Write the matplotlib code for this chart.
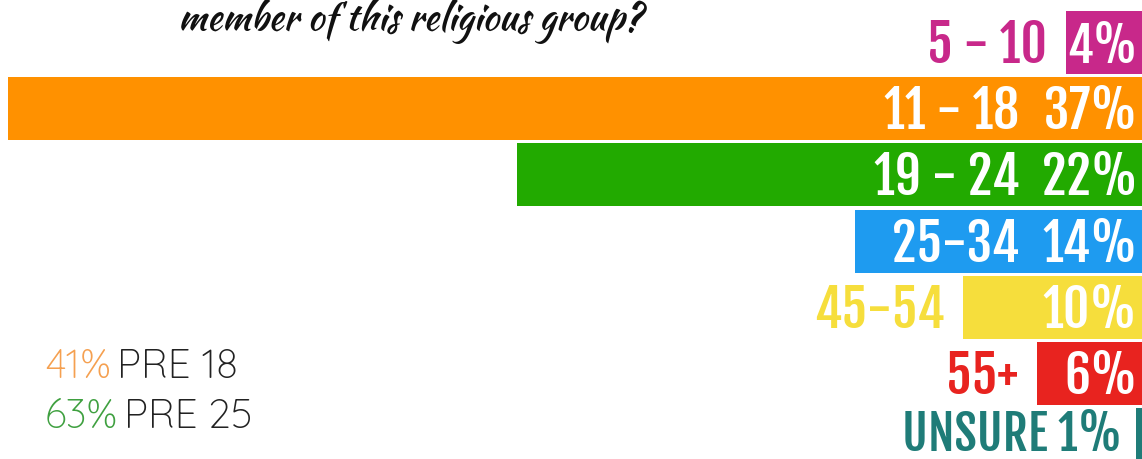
import numpy as np
import matplotlib.pyplot as plt

# age groups (rows, top to bottom) and their share
ages = ['5 - 10', '11 - 18', '19 - 24', '25-34', '45-54', '55+', 'UNSURE']
shares = [4, 37, 22, 14, 10, 6, 1]
# drawn bar length (same units as %, not proportional in the original)
bar_len = [2.48, 37.0, 20.4, 9.36, 5.84, 3.43, 0.2]
colors = ['#C8288A', '#FF9100', '#22AA00', '#1E9BF0', '#F6DE3C', '#E8231F', '#1F7C78']

W, H = 1142, 459
fig = plt.figure(figsize=(W / 100, H / 100), dpi=100)
ax = fig.add_axes([0, 0, 1, 1])

y = np.arange(len(ages))
ax.barh(y, bar_len, height=0.95, color=colors, left=0)
ax.set_xlim(37.26, 0)
ax.set_ylim(6.287, -0.636)
ax.axis('off')

bold = dict(family=['Fjalla One', 'Oswald', 'DejaVu Sans'], va='baseline')
for i, (a, s, L, c) in enumerate(zip(ages, shares, bar_len, colors)):
    pct = f'{s}%'
    yb = i + 0.31
    if L < 1:
        # last row is clipped by the image edge, text sits a bit higher
        ax.text(L + 0.45, i + 0.17, f'{a} {pct}', color=c, ha='right', fontsize=35, **bold)
        continue
    ax.text(0.15, yb, pct, color='white', ha='right', fontsize=35 if L < 3 else 37, **bold)
    if L > 8:
        ax.text(4.0, yb, a, color='white', ha='right', fontsize=37, **bold)
    else:
        ax.text(L + 0.6, yb, a, color=c, ha='right', fontsize=37, **bold)

# partial question title at the top
fig.text(178 / W, 1 - 30 / H, 'member of this religious group?', fontsize=27,
         family=['Kaushan Script', 'Aguafina Script', 'Liberation Serif'],
         color='#111111', va='baseline')

# side note
thin = dict(family=['Quicksand', 'Lato'], weight='normal', fontsize=29, va='baseline')
fig.text(45 / W, 1 - 378 / H, '41%', color='#F5A050', **thin)
fig.text(117 / W, 1 - 378 / H, 'PRE 18', color='#222222', **thin)
fig.text(45 / W, 1 - 428 / H, '63%', color='#3FA040', **thin)
fig.text(124 / W, 1 - 428 / H, 'PRE 25', color='#222222', **thin)

fig.savefig('out.png', dpi=100)
